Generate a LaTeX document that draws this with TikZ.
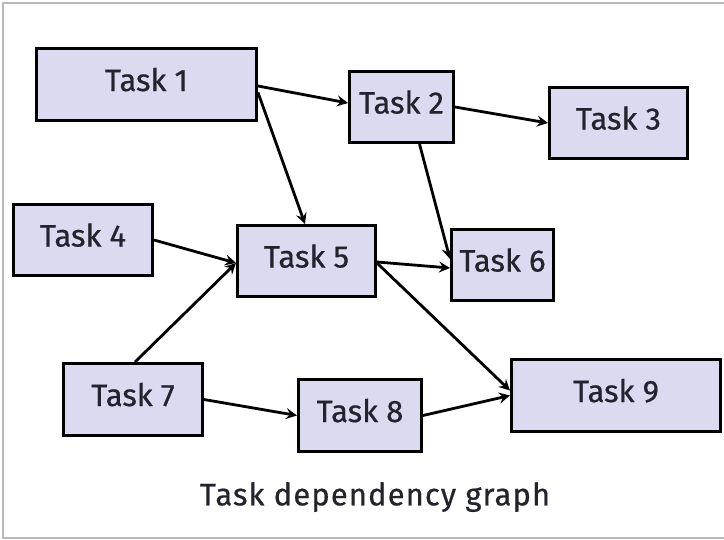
\documentclass[tikz,border=0pt]{standalone}
\usepackage{fontspec}
\setmainfont{Fira Sans}
\newfontfamily\taskfont[FakeBold=0.6]{Fira Sans}
\newfontfamily\captionfont[FakeBold=0.6,LetterSpace=3.5]{Fira Sans}
\usetikzlibrary{arrows.meta}
\definecolor{taskfill}{RGB}{218,218,240}
\definecolor{framegray}{RGB}{185,185,185}
\definecolor{ink}{RGB}{35,35,45}
\begin{document}
\begin{tikzpicture}[x=1pt,y=-1pt,
  task/.style={draw=black, line width=3.4pt, fill=taskfill, rectangle,
    inner sep=0pt, font=\taskfont\fontsize{31}{31}\selectfont, text=ink,
    text height=22pt, text depth=9pt},
  dep/.style={line width=2.8pt,
    -{Stealth[length=11pt,width=11pt,inset=4pt]}},
  caption/.style={font=\captionfont\fontsize{31}{31}\selectfont, text=ink, inner sep=0pt}]

  % page and frame
  \useasboundingbox (0,0) rectangle (724,539);
  \fill[white] (0,0) rectangle (724,539);
  \draw[framegray, line width=2pt] (726,3.3) -- (3.3,3.3) -- (3.3,537.5) -- (726,537.5);

  % tasks
  \node[task, minimum width=219.6pt, minimum height=71.6pt] (t1) at (146.5,84.5) {Task 1};
  \node[task, minimum width=103.6pt, minimum height=70.6pt] (t2) at (401.5,107) {Task 2};
  \node[task, minimum width=137.6pt, minimum height=70.6pt] (t3) at (618.5,123) {Task 3};
  \node[task, minimum width=138.6pt, minimum height=70.6pt] (t4) at (83,240) {Task 4};
  \node[task, minimum width=137.6pt, minimum height=70.6pt] (t5) at (306.5,261) {Task 5};
  \node[task, minimum width=101.6pt, minimum height=70.6pt] (t6) at (502.5,265) {Task 6};
  \node[task, minimum width=138.6pt, minimum height=71.6pt] (t7) at (133,399.5) {Task 7};
  \node[task, minimum width=122.6pt, minimum height=71.6pt] (t8) at (360,415.5) {Task 8};
  \node[task, minimum width=208.6pt, minimum height=71.6pt] (t9) at (616,395.5) {Task 9};

  % dependencies
  \draw[dep] ([yshift=-1.5pt]t1.east) -- ([yshift=4pt]t2.west);
  \draw[dep] ([yshift=-8pt]t1.east) -- ([xshift=-1.5pt]t5.north);
  \draw[dep] (t2.east) -- (t3.west);
  \draw[dep] ([xshift=18pt]t2.south) -- ([yshift=6pt]t6.west);
  \draw[dep] (t4.east) -- ([yshift=-2pt]t5.west);
  \draw[dep] ([xshift=2pt]t7.north) -- ([yshift=-2pt]t5.west);
  \draw[dep] ([yshift=-1pt]t5.east) -- ([yshift=-3pt]t6.west);
  \draw[dep] ([yshift=-2pt]t5.east) -- ([yshift=5pt]t9.west);
  \draw[dep] (t7.east) -- (t8.west);
  \draw[dep] (t8.east) -- (t9.west);

  % caption
  \node[caption] (cap) at (375,497) {Task dependency graph};
\end{tikzpicture}
\end{document}
